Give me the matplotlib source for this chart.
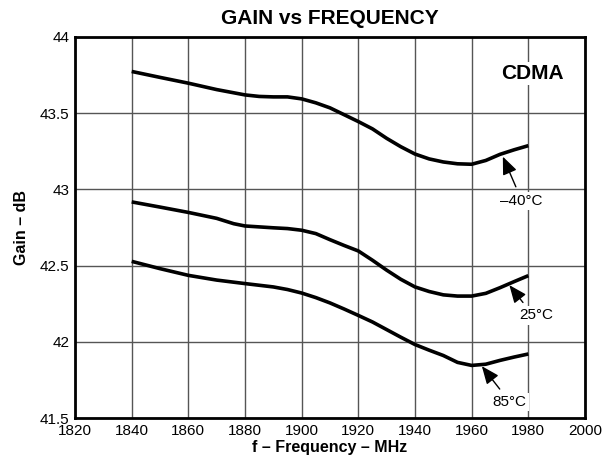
import matplotlib
matplotlib.use("Agg")
import matplotlib.pyplot as plt

plt.rcParams['font.family'] = ['Liberation Sans', 'DejaVu Sans']

# ---- data ----
freq_m40 = [1840, 1850, 1860, 1870, 1880, 1885, 1890, 1895, 1900, 1905, 1910, 1915,
            1920, 1925, 1930, 1935, 1940, 1945, 1950, 1955, 1960, 1965, 1970, 1975, 1980]
gain_m40 = [43.774, 43.735, 43.697, 43.655, 43.620, 43.610, 43.607, 43.607, 43.594, 43.568,
            43.535, 43.490, 43.445, 43.397, 43.335, 43.280, 43.232, 43.200, 43.180, 43.168,
            43.165, 43.190, 43.230, 43.260, 43.287]

freq_25 = [1840, 1850, 1860, 1870, 1876, 1880, 1890, 1895, 1900, 1905, 1910, 1915,
           1920, 1925, 1930, 1935, 1940, 1945, 1950, 1955, 1960, 1965, 1970, 1975, 1980]
gain_25 = [42.918, 42.884, 42.849, 42.810, 42.775, 42.760, 42.748, 42.743, 42.732, 42.710,
           42.670, 42.632, 42.596, 42.535, 42.470, 42.410, 42.360, 42.330, 42.308, 42.300,
           42.300, 42.318, 42.355, 42.395, 42.434]

freq_85 = [1840, 1850, 1860, 1870, 1880, 1890, 1895, 1900, 1905, 1910, 1915, 1920,
           1925, 1930, 1935, 1940, 1945, 1950, 1955, 1960, 1965, 1970, 1975, 1980]
gain_85 = [42.528, 42.480, 42.436, 42.405, 42.382, 42.360, 42.343, 42.320, 42.290, 42.255,
           42.215, 42.173, 42.130, 42.080, 42.030, 41.982, 41.945, 41.910, 41.865, 41.845,
           41.853, 41.878, 41.900, 41.920]

x_ticks = [1820, 1840, 1860, 1880, 1900, 1920, 1940, 1960, 1980, 2000]
y_ticks = [41.5, 42, 42.5, 43, 43.5, 44]
y_tick_labels = ['41.5', '42', '42.5', '43', '43.5', '44']

# ---- figure ----
fig = plt.figure(figsize=(6.02, 4.66), dpi=100)
ax = fig.add_axes([75 / 602, 1 - 418 / 466, 510 / 602, 381 / 466])

ax.set_xlim(1820, 2000)
ax.set_ylim(41.5, 44)
ax.set_xticks(x_ticks)
ax.set_xticklabels([str(t) for t in x_ticks])
ax.set_yticks(y_ticks)
ax.set_yticklabels(y_tick_labels)
ax.tick_params(axis='both', length=0, labelsize=11, pad=4, colors='black')

ax.grid(True, color='#555555', linewidth=1.0)
ax.set_axisbelow(True)
for s in ax.spines.values():
    s.set_linewidth(2.0)
    s.set_color('black')

lw = 2.6
ax.plot(freq_m40, gain_m40, color='black', lw=lw, solid_capstyle='butt', zorder=3)
ax.plot(freq_25, gain_25, color='black', lw=lw, solid_capstyle='butt', zorder=3)
ax.plot(freq_85, gain_85, color='black', lw=lw, solid_capstyle='butt', zorder=3)

ax.set_title('GAIN vs FREQUENCY', fontsize=15, fontweight='bold', pad=9)
ax.set_xlabel('f \u2013 Frequency \u2013 MHz', fontsize=11.5, fontweight='bold', labelpad=2)
ax.set_ylabel('Gain \u2013 dB', fontsize=11.5, fontweight='bold', labelpad=8)

bbox = dict(facecolor='white', edgecolor='none', pad=1.5)
ax.text(1981.4, 43.76, 'CDMA', fontsize=15, fontweight='bold', ha='center', va='center',
        bbox=bbox, zorder=4)

aprops = dict(arrowstyle='-|>,head_length=0.6,head_width=0.25', color='black', lw=1.0,
              mutation_scale=18, shrinkA=0, shrinkB=0)
labels = [
    ('\u201340\u00b0C', (1977.6, 42.923), (1975.6, 43.017), (1971.0, 43.215)),
    ('25\u00b0C', (1982.8, 42.173), (1978.1, 42.258), (1973.3, 42.372)),
    ('85\u00b0C', (1973.4, 41.603), (1969.9, 41.690), (1963.6, 41.840)),
]
for txt, tpos, tail, head in labels:
    ax.text(tpos[0], tpos[1], txt, fontsize=11, ha='center', va='center',
            bbox=bbox, zorder=4)
    ax.annotate('', xy=head, xytext=tail, arrowprops=aprops, zorder=5)

fig.savefig('out.png', dpi=100)
